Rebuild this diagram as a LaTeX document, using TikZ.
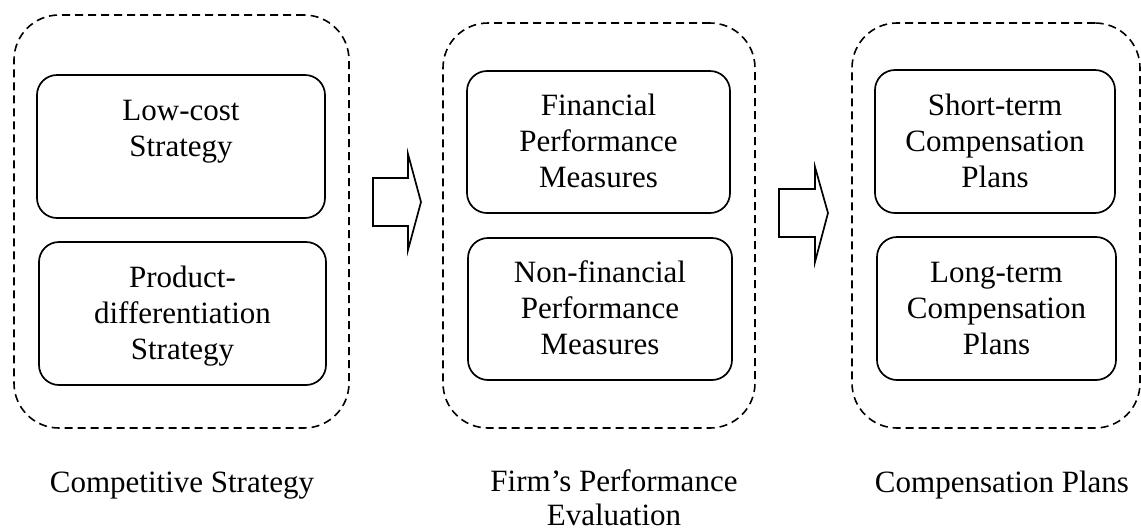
\documentclass[tikz,border=0pt]{standalone}
\usepackage{fontspec}
\setmainfont{Liberation Serif}
% strut that gives every text line the same height and depth
\newcommand\lstrut{\rule[-8pt]{0pt}{35pt}}
\begin{document}
\begin{tikzpicture}[x=1pt,y=-1pt,
  group/.style={draw, dash pattern=on 8pt off 5pt, line width=1.6pt,
    rounded corners=45pt, inner sep=0pt},
  item/.style={draw, line width=1.7pt, rounded corners=20pt, align=center,
    inner sep=0pt, font=\fontsize{31}{36}\selectfont},
  caption/.style={anchor=north, align=center, inner sep=0pt,
    font=\fontsize{31}{34}\selectfont},
  blockarrow/.style={draw, line width=1.7pt, line join=miter}]
\useasboundingbox (0,0) rectangle (1141,531);

% dashed groups
\node[group, minimum width=335pt, minimum height=413pt] (cs) at (181.5,221.5) {};
\node[group, minimum width=312pt, minimum height=405pt] (pe) at (599,225.5) {};
\node[group, minimum width=288pt, minimum height=405pt] (cp) at (996,225.5) {};

% items inside the groups
\node[item, minimum width=288pt, minimum height=143pt] (low) at (181,146.5)
  {\lstrut Low-cost\\\lstrut Strategy\\\lstrut};
\node[item, minimum width=287pt, minimum height=143pt] (diff) at (182.5,313.5)
  {\lstrut Product-\\\lstrut differentiation\\\lstrut Strategy};
\node[item, minimum width=263pt, minimum height=142pt] (fin) at (598.5,142)
  {\lstrut Financial\\\lstrut Performance\\\lstrut Measures};
\node[item, minimum width=264pt, minimum height=142pt] (nonfin) at (600,309)
  {\lstrut Non-financial\\\lstrut Performance\\\lstrut Measures};
\node[item, minimum width=240pt, minimum height=143pt] (short) at (995,141.5)
  {\lstrut Short-term\\\lstrut Compensation\\\lstrut Plans};
\node[item, minimum width=239pt, minimum height=143pt] (long) at (996.5,308.5)
  {\lstrut Long-term\\\lstrut Compensation\\\lstrut Plans};

% block arrows between the groups
\draw[blockarrow] (373,178) -- (408,178) -- (408,154) -- (421,202)
  -- (408,250) -- (408,226) -- (373,226) -- cycle;
\draw[blockarrow] (779,189) -- (815,189) -- (815,167) -- (828,213)
  -- (815,262) -- (815,237) -- (779,237) -- cycle;

% group captions
\node[caption] (capcs) at (182,465) {\lstrut Competitive Strategy};
\node[caption] (cappe) at (614,464) {\lstrut Firm’s Performance\\Evaluation};
\node[caption] (capcp) at (1002,465) {\lstrut Compensation Plans};
\end{tikzpicture}
\end{document}
